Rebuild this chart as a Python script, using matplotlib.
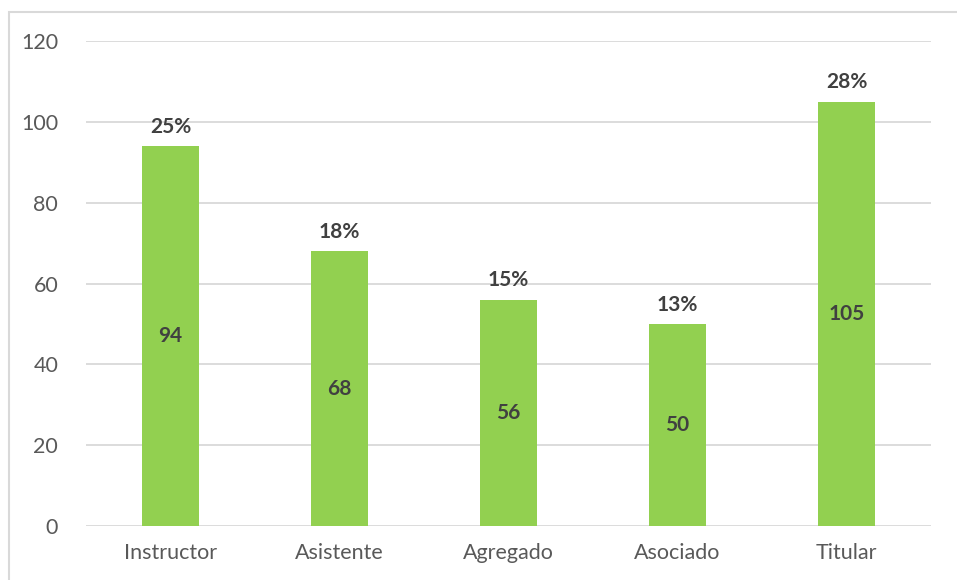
import matplotlib.pyplot as plt
from matplotlib.patches import Rectangle

# categories and counts
categories = ['Instructor', 'Asistente', 'Agregado', 'Asociado', 'Titular']
counts = [94, 68, 56, 50, 105]
percents = ['25%', '18%', '15%', '13%', '28%']
y_ticks = [0, 20, 40, 60, 80, 100, 120]

plt.rcParams['font.family'] = ['Lato', 'DejaVu Sans']

fig = plt.figure(figsize=(9.57, 5.8), dpi=100)
ax = fig.add_axes([86 / 957, 1 - 526 / 580, 845 / 957, 485 / 580])

# light frame around the chart area (runs off right and bottom edges)
fig.patches.append(Rectangle((9 / 957, -0.05), 1.0, 1 - 12 / 580 + 0.05,
                             transform=fig.transFigure, fill=False,
                             edgecolor='#d9d9d9', linewidth=1.5))

x = range(len(categories))
bars = ax.bar(x, counts, width=0.34, color='#92d050', zorder=3)

for i, v in enumerate(counts):
    ax.text(i, v / 2, str(v), ha='center', va='center', fontsize=15,
            fontweight='bold', color='#404040', zorder=4)
    ax.text(i, v + 2.3, percents[i], ha='center', va='bottom', fontsize=15,
            fontweight='bold', color='#404040', zorder=4)

ax.set_xlim(-0.5, len(categories) - 0.5)
ax.set_ylim(0, 120)
ax.set_yticks(y_ticks)
ax.set_xticks(list(x))
ax.set_xticklabels(categories)
ax.grid(axis='y', color='#d9d9d9', linewidth=1.3, zorder=0)
ax.tick_params(axis='both', length=0, labelsize=15.5, colors='#595959')
ax.tick_params(axis='y', pad=20)
ax.tick_params(axis='x', pad=12)
for s in ax.spines.values():
    s.set_visible(False)

fig.savefig('out.png', dpi=100)
